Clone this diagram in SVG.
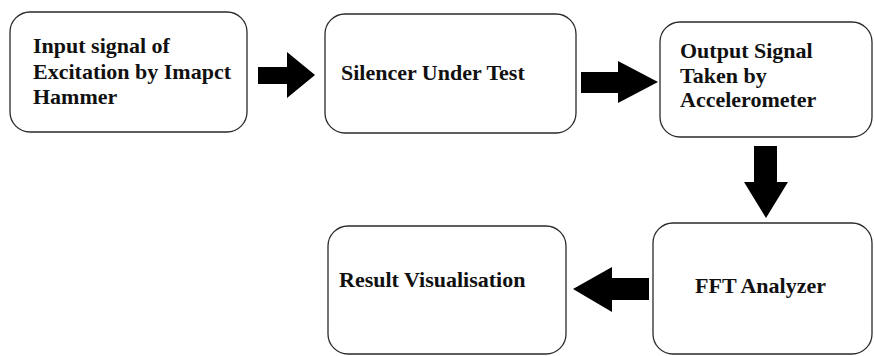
<svg xmlns="http://www.w3.org/2000/svg" width="874" height="356" viewBox="0 0 874 356">
  <style>
    .box { fill: #ffffff; stroke: #2a2a2a; stroke-width: 1.3; }
    .arrow { fill: #000000; }
  </style>
  <rect width="874" height="356" fill="#ffffff"/>

  <g id="node-input">
    <rect class="box" x="10" y="12" width="237" height="120" rx="20" ry="20"/>
    <text x="33" y="53" font-family="Liberation Serif" font-weight="bold" font-size="22" fill="#111">Input signal of</text>
    <text x="33" y="79" font-family="Liberation Serif" font-weight="bold" font-size="22" fill="#111">Excitation by Imapct</text>
    <text x="33" y="104" font-family="Liberation Serif" font-weight="bold" font-size="22" fill="#111">Hammer</text>
  </g>

  <g id="node-silencer">
    <rect class="box" x="325" y="14" width="251" height="119" rx="20" ry="20"/>
    <text x="341" y="80" font-family="Liberation Serif" font-weight="bold" font-size="22" fill="#111">Silencer Under Test</text>
  </g>

  <g id="node-output">
    <rect class="box" x="660" y="22" width="212" height="115" rx="20" ry="20"/>
    <text x="680" y="58" font-family="Liberation Serif" font-weight="bold" font-size="22" fill="#111">Output Signal</text>
    <text x="680" y="83" font-family="Liberation Serif" font-weight="bold" font-size="22" fill="#111">Taken by</text>
    <text x="680" y="107" font-family="Liberation Serif" font-weight="bold" font-size="22" fill="#111">Accelerometer</text>
  </g>

  <g id="node-fft">
    <rect class="box" x="653" y="223" width="219" height="131" rx="20" ry="20"/>
    <text x="695" y="293" font-family="Liberation Serif" font-weight="bold" font-size="22" fill="#111">FFT Analyzer</text>
  </g>

  <g id="node-result">
    <rect class="box" x="328" y="226" width="238" height="128" rx="20" ry="20"/>
    <text x="339" y="287" font-family="Liberation Serif" font-weight="bold" font-size="22" fill="#111">Result Visualisation</text>
  </g>

  <g id="connectors">
    <!-- input -> silencer -->
    <polygon class="arrow" points="258,67 287,67 287,52 315,75 287,98 287,84 258,84"/>
    <!-- silencer -> output -->
    <polygon class="arrow" points="581,72 618,72 618,61 658,82 618,103 618,93 581,93"/>
    <!-- output -> fft -->
    <polygon class="arrow" points="754,146 777,146 777,182 788,182 766,218 744,182 754,182"/>
    <!-- fft -> result -->
    <polygon class="arrow" points="649,278 612,278 612,267 573,289 612,312 612,300 649,300"/>
  </g>
</svg>
